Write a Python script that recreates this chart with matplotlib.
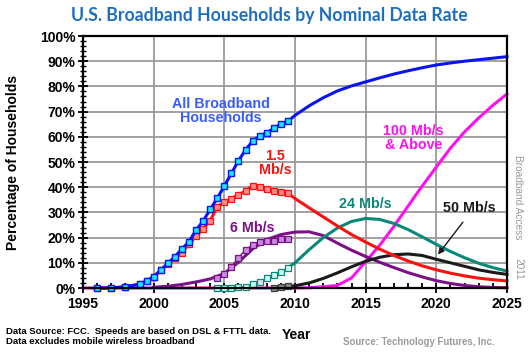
import matplotlib
matplotlib.use("Agg")
import matplotlib.pyplot as plt
from matplotlib.ticker import MultipleLocator, FuncFormatter

# ---------------- data ----------------
hist_years = [1996, 1997, 1998, 1999, 1999.5, 2000, 2000.5, 2001, 2001.5, 2002, 2002.5,
              2003, 2003.5, 2004, 2004.5, 2005, 2005.5, 2006, 2006.5, 2007, 2007.5,
              2008, 2008.5, 2009, 2009.5]
all_bb_hist = [0, 0, 0.5, 1.5, 2.8, 4.5, 7.1, 9.8, 12.4, 15.5, 18.4, 23, 26.6, 31.2, 35.6,
               40.5, 45.5, 50.5, 54.8, 58.3, 60.4, 61.6, 63.4, 65.1, 66.2]
mb15_hist = [0, 0, 0.5, 1.5, 2.8, 4.5, 7, 9.5, 12, 14, 17.5, 20.6, 23.5, 26.7, 32.3,
             34, 35.5, 37, 38.5, 40.6, 40, 39.3, 38.6, 38.2, 37.6]

late_years = [2004.5, 2005, 2005.5, 2006, 2006.5, 2007, 2007.5, 2008, 2008.5, 2009, 2009.5]
mb6_hist = [3.8, 5.5, 8.5, 12, 15.2, 17, 18.4, 18.5, 18.8, 19.3, 19.5]
mb24_hist = [0, 0, 0, 0.2, 0.5, 1.5, 2.3, 3.8, 5.2, 6.5, 8.0]

mb50_hist_years = [2008.5, 2009, 2009.5]
mb50_hist = [0, 0.2, 0.6]

proj_years = [2009.5, 2010, 2011, 2012, 2013, 2014, 2015, 2016, 2017, 2018, 2019,
              2020, 2021, 2022, 2023, 2024, 2025]
all_bb_proj = [66.2, 68.5, 72.3, 75.5, 78.2, 80.2, 81.8, 83.4, 84.9, 86.2, 87.4,
               88.5, 89.3, 90.0, 90.6, 91.2, 91.8]
mb15_proj = [37.6, 35.5, 31.8, 28.2, 24.6, 21.2, 18.2, 15.4, 12.9, 10.7, 8.8,
             7.2, 5.9, 4.8, 3.9, 3.3, 2.8]
mb24_proj = [8.0, 10.0, 15.2, 20.0, 23.8, 26.4, 27.6, 27.2, 25.6, 23.2, 20.3,
             17.3, 14.5, 12.0, 9.8, 8.1, 6.7]
mb50_proj = [0.6, 0.9, 2.0, 3.8, 6.0, 8.4, 10.6, 12.2, 13.2, 13.5, 12.9,
             11.4, 10.0, 8.6, 7.2, 6.2, 5.4]

mb6_curve_years = list(range(2000, 2026))
mb6_curve = [0.3, 0.7, 1.4, 2.4, 3.6, 5.8, 10.2, 15.5, 19.2, 21.2, 22.2, 22.3, 20.8,
             17.8, 15.0, 12.5, 10.2, 8.1, 6.1, 4.4, 2.9, 1.8, 1.0, 0.5, 0.2, 0.1]

mb100_years = [1995, 2010, 2011, 2012, 2013, 2014, 2015, 2016, 2017, 2018, 2019,
               2020, 2021, 2022, 2023, 2024, 2025]
mb100 = [0, 0, 0.1, 0.5, 1.0, 4.0, 10.5, 17, 24.5, 32.5, 40.5, 48, 55.5, 62, 67.5,
         72.5, 77]

x_ticks = [1995, 2000, 2005, 2010, 2015, 2020, 2025]
y_ticks = [0, 10, 20, 30, 40, 50, 60, 70, 80, 90, 100]

# ---------------- styling ----------------
FONT = "Liberation Sans"
plt.rcParams['font.family'] = [FONT, 'DejaVu Sans']

C_BLUE = "#0a14f0"
C_RED = "#ff1010"
C_PURPLE = "#7a0f86"
C_TEAL = "#0a8878"
C_BLACK = "#1a1a1a"
C_MAG = "#ff10f0"

fig = plt.figure(figsize=(5.29, 3.55), dpi=100)
ax = fig.add_axes([83/529, 1-288/355, (507-83)/529, (288-36)/355])

LW = 2.2
MS = 5.0

# magenta (lowest)
ax.plot(mb100_years, mb100, color=C_MAG, lw=LW, zorder=2, clip_on=False)
# purple curve
ax.plot(mb6_curve_years, mb6_curve, color=C_PURPLE, lw=LW, zorder=3, clip_on=False)
# black
ax.plot(proj_years, mb50_proj, color=C_BLACK, lw=LW, zorder=3, clip_on=False)
ax.plot(mb50_hist_years, mb50_hist, color=C_BLACK, lw=1, marker='s', ms=MS,
        mfc="#8a8a8a", mec="#404040", mew=0.9, zorder=4, clip_on=False)
# teal
ax.plot(proj_years, mb24_proj, color=C_TEAL, lw=LW, zorder=3, clip_on=False)
ax.plot(late_years, mb24_hist, color=C_TEAL, lw=1, marker='s', ms=MS,
        mfc="#d2fbf3", mec=C_TEAL, mew=0.9, zorder=4, clip_on=False)
# purple markers
ax.plot(late_years, mb6_hist, color=C_PURPLE, lw=1, marker='s', ms=MS,
        mfc="#c58ee0", mec=C_PURPLE, mew=0.9, zorder=4, clip_on=False)
# red
ax.plot(proj_years, mb15_proj, color=C_RED, lw=LW, zorder=5, clip_on=False)
ax.plot(hist_years, mb15_hist, color=C_RED, lw=LW, marker='s', ms=MS,
        mfc="#ff8a8a", mec=C_RED, mew=0.9, zorder=5, clip_on=False)
# blue
ax.plot(proj_years, all_bb_proj, color=C_BLUE, lw=LW, zorder=6, clip_on=False)
ax.plot(hist_years, all_bb_hist, color=C_BLUE, lw=LW, marker='s', ms=MS,
        mfc="#18e6ff", mec=C_BLUE, mew=1.0, zorder=6, clip_on=False)

ax.set_xlim(1995, 2025)
ax.set_ylim(0, 100)
ax.set_xticks(x_ticks)
ax.set_yticks(y_ticks)
ax.xaxis.set_minor_locator(MultipleLocator(1))
ax.yaxis.set_minor_locator(MultipleLocator(2))
ax.yaxis.set_major_formatter(FuncFormatter(lambda v, p: f"{int(v)}%"))
ax.grid(True, which='major', color="#9a9a9a", lw=1.3, zorder=0)
ax.set_axisbelow(True)

for s in ax.spines.values():
    s.set_color("black")
    s.set_linewidth(1.6)
    s.set_zorder(7)

ax.tick_params(axis='both', which='major', direction='inout', length=7, width=1.3,
               labelsize=10, pad=2)
ax.tick_params(axis='y', which='minor', direction='inout', length=4, width=1.0)
ax.tick_params(axis='x', which='minor', direction='in', length=3.5, width=1.3)
for lab in ax.get_xticklabels() + ax.get_yticklabels():
    lab.set_fontweight('bold')
ax.tick_params(axis='x', which='major', pad=3)

# series labels
LFS = 10.3
ax.text(2004.77, 70.2, "All Broadband\nHouseholds", color="#3a5cff", fontsize=LFS,
        fontweight='bold', ha='center', va='center', linespacing=1.0, zorder=8)
ax.text(2008.6, 49.6, "1.5\nMb/s", color=C_RED, fontsize=LFS, fontweight='bold',
        ha='center', va='center', linespacing=1.0, zorder=8)
ax.text(2007.0, 23.8, "6 Mb/s", color=C_PURPLE, fontsize=LFS, fontweight='bold',
        ha='center', va='center', zorder=8)
ax.text(2014.96, 33.3, "24 Mb/s", color=C_TEAL, fontsize=LFS, fontweight='bold',
        ha='center', va='center', zorder=8)
ax.text(2022.3, 31.7, "50 Mb/s", color=C_BLACK, fontsize=LFS, fontweight='bold',
        ha='center', va='center', zorder=8)
ax.text(2018.4, 59.5, "100 Mb/s\n& Above", color=C_MAG, fontsize=LFS, fontweight='bold',
        ha='center', va='center', linespacing=1.0, zorder=8)
ax.annotate("", xy=(2020.0, 12.4), xytext=(2022.0, 27.0),
            arrowprops=dict(arrowstyle='-|>', color=C_BLACK, lw=1.0,
                            mutation_scale=9), zorder=8)

# figure texts
fig.text(269/529, 1-16/355, "U.S. Broadband Households by Nominal Data Rate",
         family=["Lato", "DejaVu Sans"], fontweight='bold', fontsize=12.7,
         color="#1f6fbf", ha='center', va='center')
fig.text(13/529, 1-162/355, "Percentage of Households", rotation=90, fontsize=10,
         fontweight='bold', ha='center', va='center')
fig.text(296/529, 1-335/355, "Year", fontsize=10, fontweight='bold',
         ha='center', va='center')
fig.text(6/529, 1-331/355, "Data Source: FCC.  Speeds are based on DSL & FTTL data.",
         fontsize=6.8, fontweight='bold', ha='left', va='center')
fig.text(6/529, 1-342/355, "Data excludes mobile wireless broadband",
         fontsize=6.8, fontweight='bold', ha='left', va='center')
fig.text(419/529, 1-342/355, "Source: Technology Futures, Inc.", fontsize=6.9,
         fontweight='bold', color="#9a9a9a", ha='center', va='center')
fig.text(518/529, 1-197/355, "Broadband Access", rotation=-90, fontsize=7.3,
         color="#9a9a9a", ha='center', va='center')
fig.text(518/529, 1-269/355, "2011", rotation=-90, fontsize=7.3,
         color="#9a9a9a", ha='center', va='center')

fig.savefig("out.png", dpi=100)
